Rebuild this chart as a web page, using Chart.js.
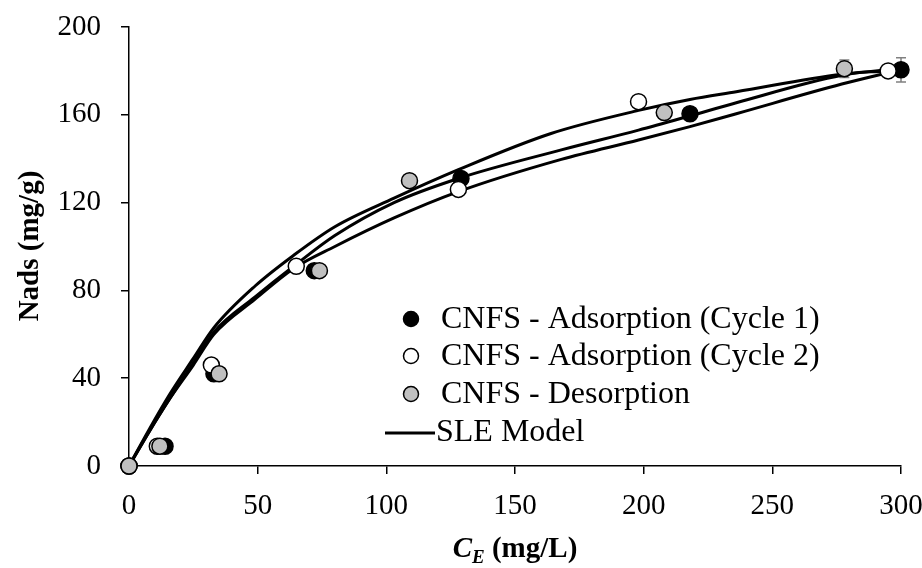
<!DOCTYPE html>
<html><head><meta charset="utf-8">
<script src="https://cdn.jsdelivr.net/npm/chart.js@4/dist/chart.umd.min.js"></script>
<style>html,body{margin:0;padding:0;background:#fff}#wrap{width:922px;height:568px;position:relative}</style>
</head><body><div id="wrap"><canvas id="c" width="922" height="568"></canvas></div>
<script>
// ---- data ----
const xTicks = [0, 50, 100, 150, 200, 250, 300];
const yTicks = [0, 40, 80, 120, 160, 200];

const seriesLabels = ['CNFS - Adsorption (Cycle 1)', 'CNFS - Adsorption (Cycle 2)', 'CNFS - Desorption', 'SLE Model'];

const cycle1X = [0, 14, 33, 72, 129, 218, 300];
const cycle1Y = [0, 9, 42, 89, 131, 160.5, 180.5];
const cycle1Err = [0, 0, 0, 0, 0, 0, 5.5];

const cycle2X = [0, 11, 32, 65, 128, 198, 295];
const cycle2Y = [0, 9, 46, 91, 126, 166, 180];
const cycle2Err = [0, 0, 0, 0, 0, 0, 0];

const desorpX = [0, 12, 35, 74, 109, 208, 278];
const desorpY = [0, 9, 42, 89, 130, 161, 181];
const desorpErr = [0, 0, 0, 0, 0, 0, 4];

// SLE model curves
const fitAX = [0, 8, 16, 25, 33, 49, 64, 80, 103, 128, 164, 198, 218, 236, 277, 294];
const fitAY = [0, 17, 33, 49, 63, 82, 96, 109, 122, 135, 151.5, 162, 167, 170.5, 178.5, 180];
const fitBX = [0, 8, 16, 25, 33, 49, 64, 80, 103, 128, 168, 198, 218, 236, 277, 298];
const fitBY = [0, 16, 31, 47, 61, 77, 91, 105, 120, 131, 144, 153, 159.5, 165.5, 178, 181];
const fitCX = [0, 8, 16, 25, 33, 49, 64, 80, 103, 128, 168, 198, 218, 236, 277, 296];
const fitCY = [0, 16, 31, 46, 60, 76, 90, 100, 113, 125, 139.7, 148.5, 154.6, 160.5, 174, 179.5];

const pts = (xs, ys) => xs.map((x, i) => ({x, y: ys[i]}));

const FONT = "'Liberation Serif', 'Times New Roman', serif";

const curveStyle = {type: 'line', showLine: true, pointRadius: 0, borderColor: '#000', borderWidth: 3,
  backgroundColor: '#000', cubicInterpolationMode: 'monotone', fill: false, order: 10, clip: false};
const ptStyle = {type: 'scatter', pointRadius: 8, pointBorderWidth: 1.5, pointBorderColor: '#000', showLine: false, clip: false};

const datasets = [
  Object.assign({label: seriesLabels[3], data: pts(fitAX, fitAY)}, curveStyle),
  Object.assign({label: seriesLabels[3] + ' B', data: pts(fitBX, fitBY)}, curveStyle),
  Object.assign({label: seriesLabels[3] + ' C', data: pts(fitCX, fitCY)}, curveStyle),
  Object.assign({label: seriesLabels[0], data: pts(cycle1X, cycle1Y), err: cycle1Err, pointBackgroundColor: '#000', backgroundColor: '#000', borderColor: '#000', order: 3}, ptStyle),
  Object.assign({label: seriesLabels[1], data: pts(cycle2X, cycle2Y), err: cycle2Err, pointBackgroundColor: '#fff', backgroundColor: '#fff', borderColor: '#000', order: 2}, ptStyle),
  Object.assign({label: seriesLabels[2], data: pts(desorpX, desorpY), err: desorpErr, pointBackgroundColor: '#c0c0c0', backgroundColor: '#c0c0c0', borderColor: '#000', order: 1}, ptStyle),
];

const errorBars = {
  id: 'errorBars',
  beforeDatasetsDraw(chart) {
    const ctx = chart.ctx, xs = chart.scales.x, ys = chart.scales.y;
    ctx.save();
    ctx.strokeStyle = '#808080';
    ctx.lineWidth = 1.5;
    chart.data.datasets.forEach(ds => {
      if (!ds.err) return;
      ds.data.forEach((p, i) => {
        const e = ds.err[i];
        if (!e) return;
        const px = xs.getPixelForValue(p.x);
        const y1 = ys.getPixelForValue(p.y + e), y2 = ys.getPixelForValue(p.y - e);
        ctx.beginPath();
        ctx.moveTo(px, y1); ctx.lineTo(px, y2);
        ctx.moveTo(px - 5, y1); ctx.lineTo(px + 5, y1);
        ctx.moveTo(px - 5, y2); ctx.lineTo(px + 5, y2);
        ctx.stroke();
      });
    });
    ctx.restore();
  }
};

const titlesLegend = {
  id: 'titlesLegend',
  afterDraw(chart) {
    const ctx = chart.ctx, ca = chart.chartArea;
    ctx.save();
    ctx.fillStyle = '#000';
    // y title
    ctx.save();
    ctx.translate(31, 246);
    ctx.rotate(-Math.PI / 2);
    ctx.font = 'bold 29px ' + FONT;
    ctx.textAlign = 'center';
    ctx.textBaseline = 'middle';
    ctx.fillText('Nads (mg/g)', 0, 0);
    ctx.restore();
    // x title: C_E (mg/L)
    const partC = 'C', partE = 'E', partRest = ' (mg/L)';
    ctx.textBaseline = 'alphabetic';
    ctx.font = 'italic bold 29px ' + FONT;
    const wC = ctx.measureText(partC).width;
    ctx.font = 'italic bold 19px ' + FONT;
    const wE = ctx.measureText(partE).width;
    ctx.font = 'bold 29px ' + FONT;
    const wR = ctx.measureText(partRest).width;
    const total = wC + wE + wR;
    let x0 = (ca.left + ca.right) / 2 - total / 2;
    const base = 557;
    ctx.textAlign = 'left';
    ctx.font = 'italic bold 29px ' + FONT;
    ctx.fillText(partC, x0, base);
    ctx.font = 'italic bold 19px ' + FONT;
    ctx.fillText(partE, x0 + wC, base + 6);
    ctx.font = 'bold 29px ' + FONT;
    ctx.fillText(partRest, x0 + wC + wE, base);

    // legend
    const rows = [319, 356, 394, 432];
    const markerX = 411, textX = 441;
    ctx.font = '32px ' + FONT;
    ctx.textBaseline = 'middle';
    ctx.textAlign = 'left';
    const ptSets = [datasets[3], datasets[4], datasets[5]];
    ptSets.forEach((ds, i) => {
      ctx.beginPath();
      ctx.arc(markerX, rows[i], 7.5, 0, Math.PI * 2);
      ctx.fillStyle = ds.pointBackgroundColor;
      ctx.fill();
      ctx.lineWidth = 1.5;
      ctx.strokeStyle = '#000';
      ctx.stroke();
      ctx.fillStyle = '#000';
      ctx.fillText(ds.label, textX, rows[i] + 1);
    });
    ctx.beginPath();
    ctx.moveTo(385, rows[3] + 1);
    ctx.lineTo(435, rows[3] + 1);
    ctx.lineWidth = 3;
    ctx.strokeStyle = '#000';
    ctx.stroke();
    ctx.fillText(datasets[0].label, 436, rows[3] + 1);
    ctx.restore();
  }
};

const tickFont = {family: FONT, size: 29};

new Chart(document.getElementById('c'), {
  type: 'scatter',
  data: {datasets},
  options: {
    responsive: false,
    devicePixelRatio: 1,
    animation: false,
    layout: {padding: {top: 27, right: 21, left: 0, bottom: 0}},
    plugins: {legend: {display: false}, tooltip: {enabled: false}},
    scales: {
      x: {
        type: 'linear', min: 0, max: 300,
        afterBuildTicks(s) { s.ticks = xTicks.map(v => ({value: v})); },
        afterFit(s) { s.height = 102; s.paddingLeft = 0; s.paddingRight = 0; },
        ticks: {font: tickFont, color: '#000', padding: 15, maxRotation: 0},
        grid: {drawOnChartArea: false, drawTicks: true, tickLength: 8, color: '#000', lineWidth: 1.5},
        border: {display: true, color: '#000', width: 1.5}
      },
      y: {
        type: 'linear', min: 0, max: 200,
        afterBuildTicks(s) { s.ticks = yTicks.map(v => ({value: v})); },
        afterFit(s) { s.width = 129; s.paddingTop = 0; s.paddingBottom = 0; },
        ticks: {font: tickFont, color: '#000', padding: 20},
        grid: {drawOnChartArea: false, drawTicks: true, tickLength: 8, color: '#000', lineWidth: 1.5},
        border: {display: true, color: '#000', width: 1.5}
      }
    }
  },
  plugins: [errorBars, titlesLegend]
});
</script>
</body></html>
